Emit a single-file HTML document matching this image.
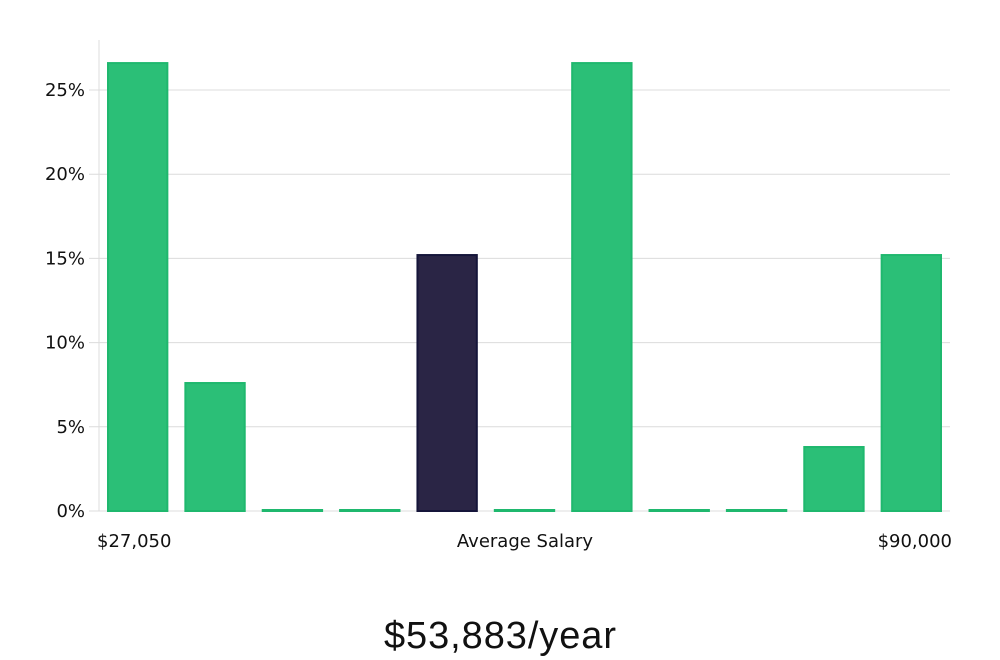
<!DOCTYPE html>
<html><head><meta charset="utf-8"><style>
html,body{margin:0;padding:0;background:#fff;width:1000px;height:660px;overflow:hidden}
svg{display:block}
text{font-family:"DejaVu Sans","Liberation Sans",sans-serif;fill:#111}
</style></head><body>
<svg id="chart" width="1000" height="660" viewBox="0 0 1000 660">
<g id="grid"></g><g id="bars"></g><g id="axes"></g>
<text x="97" y="547" font-size="18">$27,050</text>
<text x="525" y="547" font-size="18" text-anchor="middle">Average Salary</text>
<text x="952" y="547" font-size="18" text-anchor="end">$90,000</text>
<text x="500" y="648" font-size="38" text-anchor="middle" style="font-family:'Liberation Sans Narrow','Liberation Sans',sans-serif;font-weight:300" textLength="232">$53,883/year</text>
</svg>
<script>
const values=[26.6,7.6,0,0,15.2,0,26.6,0,0,3.8,15.2];
const highlight=[false,false,false,false,true,false,false,false,false,false,false];
const ticks=[0,5,10,15,20,25];
const tickLabels=["0%","5%","10%","15%","20%","25%"];
const NS="http://www.w3.org/2000/svg";
const x0=99,x1=950,yBase=511,yTop=40,maxV=27.97;
const y=v=>yBase-(v/maxV)*(yBase-yTop);
const band=(x1-x0)/values.length,pad=8;
const xb=i=>x0+i*band+pad;
function mk(t,a,p){const e=document.createElementNS(NS,t);for(const k in a)e.setAttribute(k,a[k]);p.appendChild(e);return e;}
const grid=document.getElementById('grid'),bars=document.getElementById('bars'),axes=document.getElementById('axes');
ticks.forEach((t,i)=>{
  const l=mk('line',{x1:x0-10,x2:x1,y1:y(t),y2:y(t),stroke:'#dcdcdc','stroke-width':1},grid);
  
  
  const tx=mk('text',{x:85,y:y(t)+6,'font-size':18,'text-anchor':'end'},axes);
  tx.textContent=tickLabels[i];
  
  
});
const ax=mk('line',{x1:x0,x2:x0,y1:yTop,y2:yBase,stroke:'#dcdcdc','stroke-width':1},axes);


values.forEach((v,i)=>{
  const h=Math.max(yBase-y(v),1);
  const r=mk('rect',{x:xb(i)+1,y:yBase-h,width:band-2*pad-2,height:h,
    fill:highlight[i]?'#2a2545':'#2bbf77',stroke:highlight[i]?'#15153a':'#1fb86e','stroke-width':2},bars);
  
  
});
</script>
</body></html>
